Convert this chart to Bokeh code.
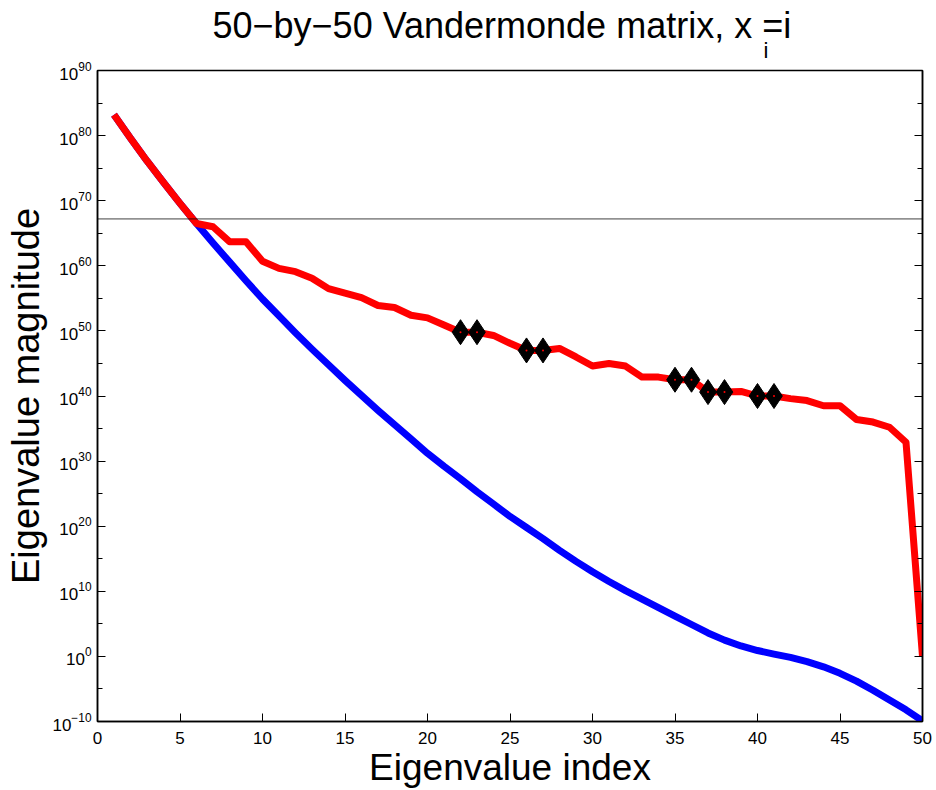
import numpy as np
from bokeh.plotting import figure
from bokeh.models import (Range1d, FixedTicker, LogAxis, Span, Title,
                          CustomJSTickFormatter)
from bokeh.embed import file_html
from bokeh.resources import INLINE

# ---------------- data ----------------
index = list(range(1, 51))

# log10 of computed eigenvalue magnitudes (red)
computed_exp = [83.2, 79.6, 76.1, 72.8, 69.6, 66.5, 66.0, 63.7, 63.7, 60.7,
                59.6, 59.1, 58.1, 56.5, 55.8, 55.1, 53.9, 53.6, 52.4, 52.0,
                50.9, 49.8, 49.8, 49.3, 48.1, 47.0, 47.0, 47.3, 46.0, 44.6,
                45.0, 44.6, 42.9, 42.9, 42.5, 42.5, 40.6, 40.6, 40.7, 40.0,
                40.0, 39.6, 39.3, 38.5, 38.5, 36.4, 36.0, 35.2, 32.9, 0.0]

# log10 of exact eigenvalue magnitudes (blue)
exact_exp = [83.2, 79.6, 76.1, 72.8, 69.6, 66.5, 63.5, 60.6, 57.7, 54.9,
             52.3, 49.7, 47.2, 44.8, 42.4, 40.1, 37.8, 35.6, 33.4, 31.2,
             29.2, 27.3, 25.3, 23.4, 21.5, 19.8, 18.1, 16.3, 14.6, 13.0,
             11.5, 10.1, 8.8, 7.5, 6.2, 4.9, 3.6, 2.5, 1.6, 0.9,
             0.35, -0.15, -0.8, -1.6, -2.6, -3.8, -5.2, -6.7, -8.2, -9.9]

# complex eigenvalues marked with diamonds
marked_index = [22, 23, 26, 27, 35, 36, 37, 38, 40, 41]

threshold_exp = 67.2

x_ticks = [0, 5, 10, 15, 20, 25, 30, 35, 40, 45, 50]
y_major_exp = [-10, 0, 10, 20, 30, 40, 50, 60, 70, 80, 90]
y_minor_exp = [-5, 5, 15, 25, 35, 45, 55, 65, 75, 85]

title_main = "50\u2212by\u221250 Vandermonde matrix, x\u00a0=i"
title_sub = "i"
x_label = "Eigenvalue index"
y_label = "Eigenvalue magnitude"

# ---------------- derived ----------------
computed = [10.0 ** e for e in computed_exp]
exact = [10.0 ** e for e in exact_exp]
marked_vals = [computed[i - 1] for i in marked_index]

FONT = "Liberation Sans"

p = figure(width=936, height=790, title=None,
           x_range=Range1d(0, 50), y_range=Range1d(1e-10, 1e90),
           y_axis_type="log", output_backend="svg", toolbar_location=None,
           min_border_left=97, min_border_right=14, min_border_top=70,
           min_border_bottom=69)
p.xgrid.grid_line_color = None
p.ygrid.grid_line_color = None
p.outline_line_color = "black"
p.outline_line_width = 1.5
p.background_fill_color = "white"
p.border_fill_color = "white"

yt = FixedTicker(ticks=[10.0 ** e for e in y_major_exp],
                 minor_ticks=[10.0 ** e for e in y_minor_exp])
xt = FixedTicker(ticks=x_ticks, minor_ticks=[])

def style(ax):
    ax.axis_line_color = "black"
    ax.axis_line_width = 1.5
    ax.major_tick_in = 8
    ax.major_tick_out = 0
    ax.minor_tick_in = 5
    ax.minor_tick_out = 0
    ax.major_tick_line_color = "black"
    ax.minor_tick_line_color = "black"
    ax.major_label_text_font = FONT
    ax.major_label_text_font_size = "17px"
    ax.major_label_text_color = "black"
    ax.axis_label_text_font = FONT
    ax.axis_label_text_font_style = "normal"
    ax.axis_label_text_color = "black"

xa = p.xaxis[0]
xa.ticker = xt
style(xa)
xa.axis_label = x_label
xa.axis_label_text_font_size = "37px"
xa.major_label_standoff = 10
xa.axis_label_standoff = 0

ya = p.yaxis[0]
ya.ticker = yt
style(ya)
ya.axis_label = y_label
ya.axis_label_text_font_size = "38px"
ya.major_label_standoff = 6
ya.axis_label_standoff = 2

blank = CustomJSTickFormatter(code="return ''")
ra = LogAxis(ticker=yt, formatter=blank)
style(ra)
ra.major_label_text_color = None
ra.major_label_standoff = 0
p.add_layout(ra, "right")

p.add_layout(Span(location=10.0 ** threshold_exp, dimension="width",
                  line_color="black", line_width=1, line_alpha=0.75))

p.line(index, exact, line_color="blue", line_width=7, line_join="round")
p.line(index, computed, line_color="red", line_width=7, line_join="round")
p.scatter(marked_index, marked_vals, marker="diamond", size=25,
          fill_color="black", line_color="black")
p.scatter(marked_index, marked_vals, marker="circle", size=2,
          fill_color="red", line_color=None)

# title: subscript row first (nearer the frame), then main row
p.add_layout(Title(text=title_sub, align="left", offset=666,
                   vertical_align="bottom", standoff=15,
                   text_font=FONT, text_font_size="22px",
                   text_font_style="normal", text_color="black"), "above")
p.add_layout(Title(text=title_main, align="left", offset=115,
                   vertical_align="bottom", standoff=-34,
                   text_font=FONT, text_font_size="36px",
                   text_font_style="normal", text_color="black"), "above")

open("out.html", "w").write(file_html(p, INLINE))
